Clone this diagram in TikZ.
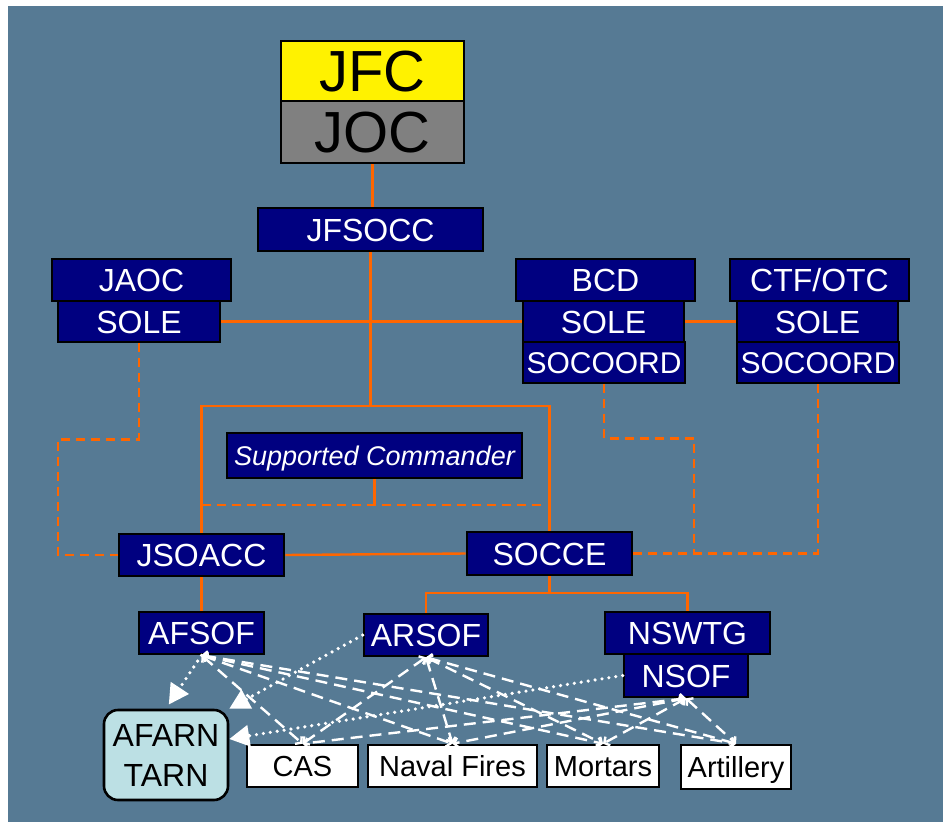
\documentclass[tikz,border=0pt]{standalone}
\usepackage{fontspec}
\setmainfont{Liberation Sans}
\usetikzlibrary{arrows.meta}
\definecolor{slate}{RGB}{86,122,148}
\definecolor{navyunit}{RGB}{0,0,128}
\definecolor{linkorange}{RGB}{255,102,0}
\definecolor{tarnblue}{RGB}{188,224,228}
\tikzset{
  unit/.style={draw=black, line width=2.6pt, fill=navyunit, text=white,
    inner sep=0pt, font=\fontsize{32}{32}\selectfont,
    text height=23pt, text depth=0pt},
  fire/.style={draw=black, line width=2.6pt, fill=white, text=black,
    inner sep=0pt, minimum height=42pt, font=\fontsize{29}{29}\selectfont,
    text height=21pt, text depth=0pt},
  cmdlink/.style={linkorange, line width=2.4pt},
  coordlink/.style={linkorange, line width=2.4pt, dash pattern=on 9pt off 6pt},
  firelink/.style={white, line width=2.4pt, dash pattern=on 12pt off 7pt,
    {Straight Barb[length=4pt,width=10pt]}-{Straight Barb[length=4pt,width=10pt]}},
  netlink/.style={white, line width=3.6pt, line cap=round, dash pattern=on 0pt off 7pt,
    -{Triangle[length=20pt,width=21pt]}}
}
\begin{document}
\begin{tikzpicture}[x=1pt,y=-1pt]
\useasboundingbox (0,0) rectangle (943,827);
\fill[slate] (8,6) rectangle (943,822);

% command nodes
\node[unit, fill=yellow, text=black, minimum width=183pt, minimum height=60pt,
  font=\fontsize{58}{58}\selectfont, text height=41.5pt] (jfc) at (372.5,71) {JFC};
\node[unit, fill=gray, text=black, minimum width=183pt, minimum height=62pt,
  font=\fontsize{58}{58}\selectfont, text height=41.5pt] (joc) at (372.5,132) {JOC};
\node[unit, minimum width=225pt, minimum height=43pt] (jfsocc) at (370.5,229.5) {JFSOCC};

\node[unit, minimum width=179pt, minimum height=42pt] (jaoc) at (141.5,280) {JAOC};
\node[unit, minimum width=162pt, minimum height=41pt] (solea) at (139,321.5) {SOLE};

\node[unit, minimum width=179pt, minimum height=42pt] (bcd) at (605.5,280) {BCD};
\node[unit, minimum width=161pt, minimum height=41pt] (soleb) at (603.5,321.5) {SOLE};
\node[unit, minimum width=162pt, minimum height=41pt,
  font=\fontsize{30}{30}\selectfont, text height=21.5pt] (socoordb) at (604,362.5) {SOCOORD};

\node[unit, minimum width=179pt, minimum height=42pt] (ctf) at (819.5,280) {CTF/OTC};
\node[unit, minimum width=161pt, minimum height=41pt] (solec) at (817.5,321.5) {SOLE};
\node[unit, minimum width=162pt, minimum height=41pt,
  font=\fontsize{30}{30}\selectfont, text height=21.5pt] (socoordc) at (818,362.5) {SOCOORD};

\node[unit, minimum width=295pt, minimum height=45pt,
  font=\fontsize{27}{27}\selectfont\itshape, text height=19.3pt] (supcmd) at (374.5,455.5) {Supported Commander};

\node[unit, minimum width=165pt, minimum height=42pt] (jsoacc) at (201.5,555) {JSOACC};
\node[unit, minimum width=165pt, minimum height=43pt] (socce) at (549.5,553.5) {SOCCE};

\node[unit, minimum width=125pt, minimum height=42pt] (afsof) at (201.5,633) {AFSOF};
\node[unit, minimum width=124pt, minimum height=42pt] (arsof) at (426,635) {ARSOF};
\node[unit, minimum width=165pt, minimum height=42pt] (nswtg) at (687.5,633) {NSWTG};
\node[unit, minimum width=124pt, minimum height=43pt] (nsof) at (686,675.5) {NSOF};

% fires and network
\node[draw=black, line width=2.6pt, fill=tarnblue, rounded corners=14pt, inner sep=0pt,
  minimum width=124pt, minimum height=90pt, align=center,
  font=\fontsize{32}{40}\selectfont] (afarn) at (166,755) {AFARN\\TARN};
\node[fire, minimum width=111pt] (cas) at (302.5,766) {CAS};
\node[fire, minimum width=169pt] (naval) at (452.5,766) {Naval Fires};
\node[fire, minimum width=112pt] (mortars) at (603,766) {Mortars};
\node[fire, minimum width=110pt, minimum height=44pt] (artillery) at (736,767) {Artillery};

% command lines
\coordinate (split) at (jfsocc.south |- 0,406);
\coordinate (supjoin) at (supcmd.south |- 0,505);
\coordinate (split2) at (socce.south |- 0,593);
\draw[cmdlink] (joc.south) -- (joc.south |- jfsocc.north);
\draw[cmdlink] (jfsocc.south) -- (split);
\draw[cmdlink] (jsoacc.north) |- (split) -| (socce.north);
\draw[cmdlink] (solea.east) -- (soleb.west);
\draw[cmdlink] (soleb.east) -- (solec.west);
\draw[cmdlink] (jsoacc.east) -- (socce.west);
\draw[cmdlink] (supcmd.south) -- (supjoin);
\draw[coordlink] (jsoacc.north |- supjoin) -- ([xshift=-4pt]socce.north |- supjoin);
\draw[cmdlink] (jsoacc.south) -- (afsof.north);
\draw[cmdlink] (socce.south) -- (split2);
\draw[cmdlink] (arsof.north) |- (split2) -| (nswtg.north);

% coordination lines
\draw[coordlink] (solea.south) -- ++(0,96) -| (58,555) -- (jsoacc.west);
\draw[coordlink] (socoordb.south) -- ++(0,54) -| (694,554);
\draw[coordlink] (socce.east) -| (socoordc.south);

% fire support lines
\foreach \src in {afsof,arsof,nsof}
  \foreach \dst in {cas,naval,mortars,artillery}
    \draw[firelink] (\src.south) -- (\dst.north);

% network lines
\draw[netlink, shorten >=5pt] (afsof.south) -- (afarn.north);
\draw[netlink] (arsof.west) -- (afarn.north east);
\draw[netlink] (nsof.west) -- ([yshift=16pt]afarn.east);
\end{tikzpicture}
\end{document}
